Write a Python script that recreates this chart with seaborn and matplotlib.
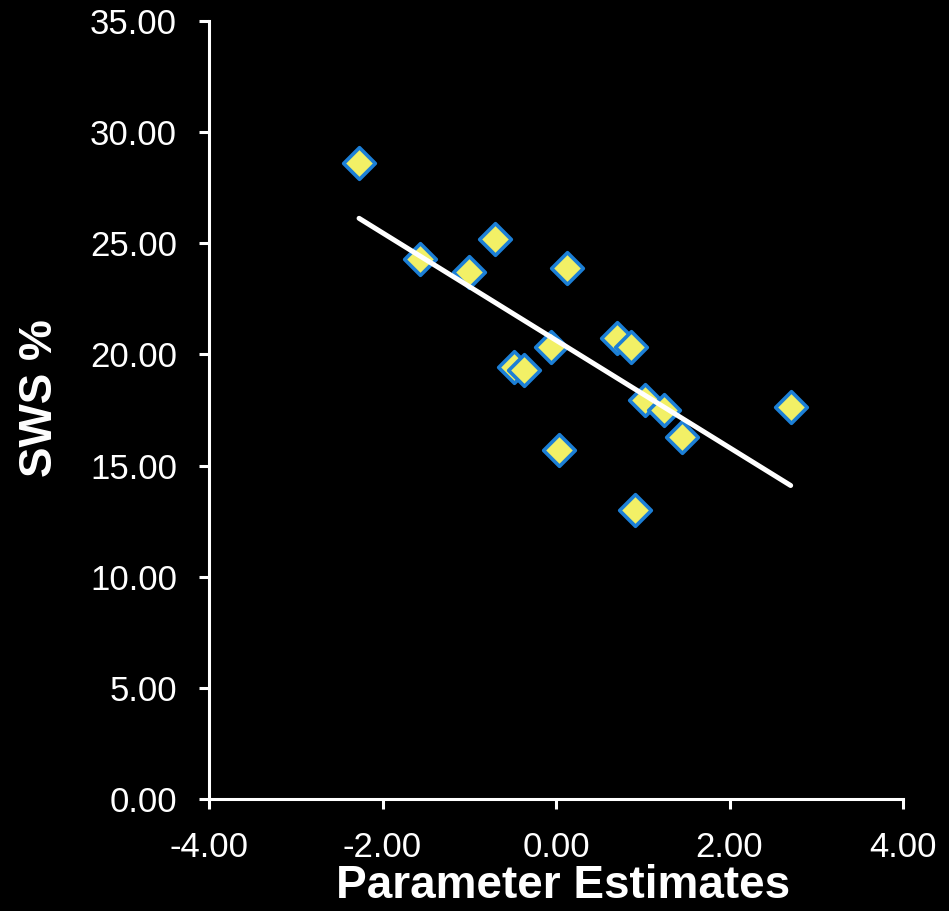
import matplotlib
matplotlib.use("Agg")
import matplotlib.pyplot as plt
import seaborn as sns
import numpy as np
import pandas as pd

# Data
param_est = [-2.27, -1.57, -1.00, -0.705, 0.124, 0.70, 0.86, -0.06,
             -0.48, -0.37, 0.03, 1.03, 1.25, 1.45, 0.91, 2.705]
sws_pct = [28.61, 24.29, 23.71, 25.19, 23.89, 20.72, 20.35, 20.35,
           19.45, 19.30, 15.70, 17.95, 17.50, 16.27, 13.00, 17.65]
x_ticks = [-4, -2, 0, 2, 4]
y_ticks = [0, 5, 10, 15, 20, 25, 30, 35]

df = pd.DataFrame({"Parameter Estimates": param_est, "SWS %": sws_pct})

sns.set_style("dark")
plt.rcParams["font.family"] = ["Liberation Sans", "DejaVu Sans"]

fig = plt.figure(figsize=(9.49, 9.11), dpi=100, facecolor="black")
ax = fig.add_axes([209/949, 1 - 799/911, 694/949, 778/911])
ax.set_facecolor("black")

sns.regplot(data=df, x="Parameter Estimates", y="SWS %", ax=ax, ci=None,
            truncate=True, marker="D",
            scatter_kws=dict(s=260, facecolor="#F2F066", edgecolor="#1C7FD6",
                             linewidths=2.6, alpha=1, zorder=3),
            line_kws=dict(color="white", linewidth=3.6, solid_capstyle="round",
                          zorder=4))

ax.set_xlim(-4, 4)
ax.set_ylim(0, 35)
ax.set_xticks(x_ticks)
ax.set_yticks(y_ticks)
ax.set_xticklabels([f"{v:.2f}" for v in x_ticks])
ax.set_yticklabels([f"{v:.2f}" for v in y_ticks])
ax.grid(False)

for side in ["top", "right"]:
    ax.spines[side].set_visible(False)
for side in ["left", "bottom"]:
    ax.spines[side].set_visible(True)
    ax.spines[side].set_color("white")
    ax.spines[side].set_linewidth(2.2)

ax.tick_params(axis="both", colors="white", direction="out", length=7,
               width=2.2, labelsize=25, left=True, bottom=True)
ax.tick_params(axis="y", pad=16)
ax.tick_params(axis="x", pad=16)

ax.set_xlabel("Parameter Estimates", color="white", fontsize=33,
              fontweight="bold")
ax.set_ylabel("SWS %", color="white", fontsize=33, fontweight="bold")
ax.xaxis.set_label_coords(0.51, -0.083)
ax.yaxis.set_label_coords(-0.212, 0.515)

fig.savefig("out.png", dpi=100, facecolor="black")
